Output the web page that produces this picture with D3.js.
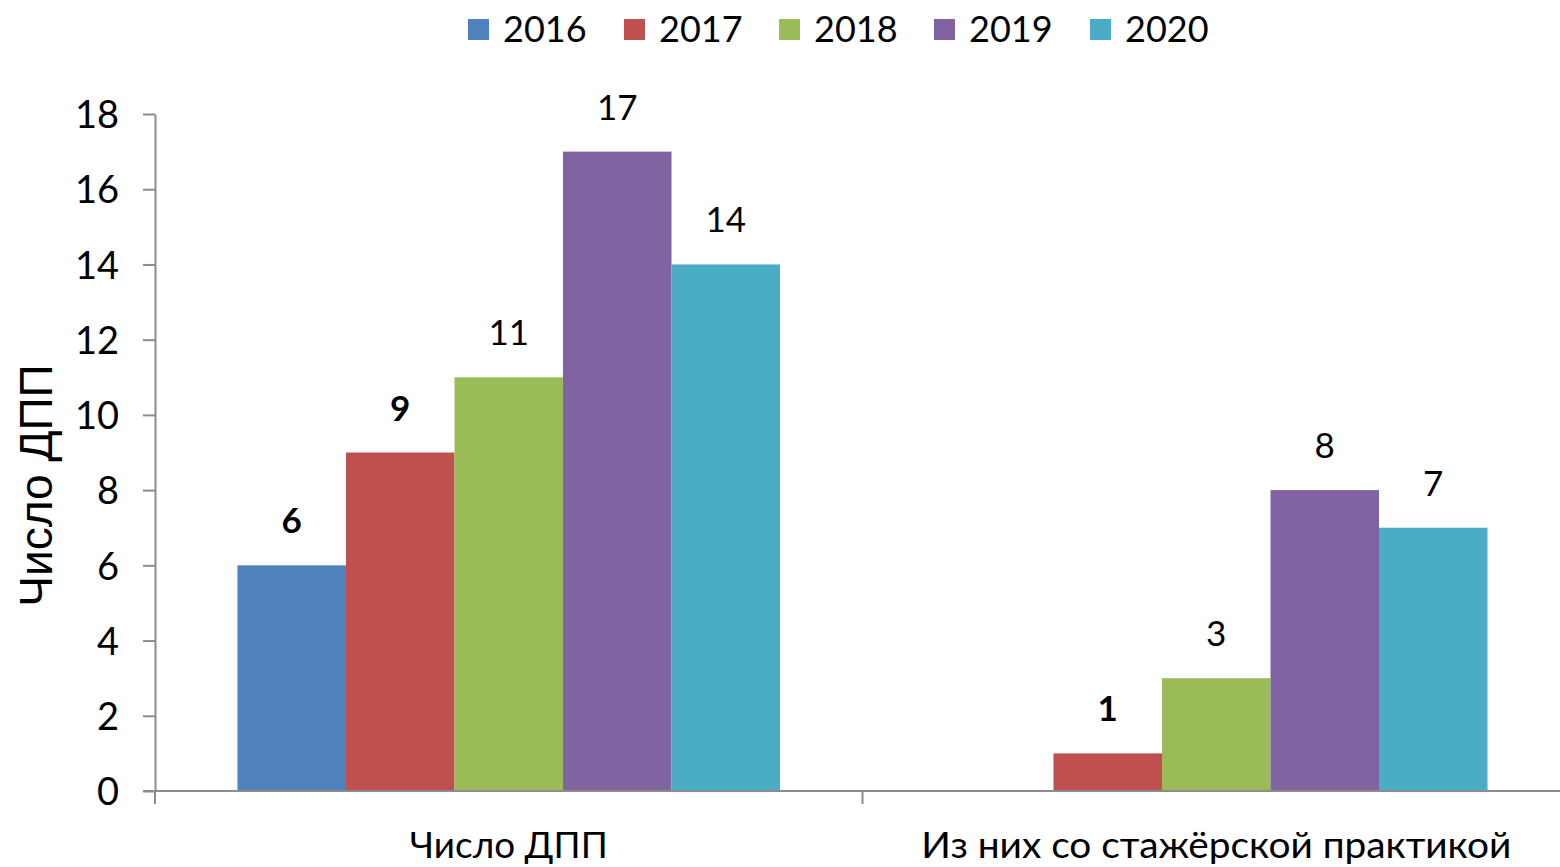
<!DOCTYPE html>
<html>
<head>
<meta charset="utf-8">
<script src="https://cdn.jsdelivr.net/npm/d3@7"></script>
<style>
  body { margin: 0; background: #fff; }
  text { font-family: Lato, "Open Sans", sans-serif; fill: #000; }
</style>
</head>
<body>
<svg id="chart" width="1560" height="867"></svg>
<script>
// data
const categories = ["Число ДПП", "Из них со стажёрской практикой"];
const years = ["2016", "2017", "2018", "2019", "2020"];
const colors = ["#4f81bd", "#c0504d", "#9bbb59", "#8064a2", "#4bacc6"];
const values2016 = [6, 0];
const values2017 = [9, 1];
const values2018 = [11, 3];
const values2019 = [17, 8];
const values2020 = [14, 7];
const boldLabels = [[true, false], [true, true], [false, false], [false, false], [false, false]];
const yTicks = [0, 2, 4, 6, 8, 10, 12, 14, 16, 18];

const series = [values2016, values2017, values2018, values2019, values2020];

const svg = d3.select('#chart');
const mLeft = 155, mRight = 1570, mTop = 114, mBottom = 791;

const x0 = d3.scaleBand().domain(categories).range([mLeft, mRight]).paddingInner(0).paddingOuter(0);
const x1 = d3.scaleBand().domain(years).range([0, x0.bandwidth()]).paddingInner(0).paddingOuter(0.76);
const y = d3.scaleLinear().domain([0, 18]).range([mBottom, mTop]);

// bars
const groups = svg.append("g")
  .selectAll("g")
  .data(categories)
  .join("g")
  .attr("transform", d => `translate(${x0(d)},0)`);

groups.selectAll("rect")
  .data((c, ci) => years.map((yr, si) => ({yr, si, ci, v: series[si][ci]})).filter(d => d.v > 0))
  .join("rect")
  .attr("x", d => x1(d.yr))
  .attr("y", d => y(d.v))
  .attr("width", x1.bandwidth())
  .attr("height", d => y(0) - y(d.v))
  .attr("fill", d => colors[d.si]);

groups.selectAll("text.lbl")
  .data((c, ci) => years.map((yr, si) => ({yr, si, ci, v: series[si][ci]})).filter(d => d.v > 0))
  .join("text")
  .attr("class", "lbl")
  .attr("x", d => x1(d.yr) + x1.bandwidth() / 2)
  .attr("y", d => y(d.v) - 32)
  .attr("text-anchor", "middle")
  .style("font-size", "35px")
  .style("font-weight", d => boldLabels[d.si][d.ci] ? "bold" : "normal")
  .text(d => d.v);

// y axis
const yAxis = svg.append("g")
  .attr("transform", `translate(${mLeft},0)`)
  .call(d3.axisLeft(y).tickValues(yTicks).tickSize(12).tickPadding(24).tickSizeOuter(0));
yAxis.select(".domain").attr("stroke", "#8c8c8c").attr("stroke-width", 2);
yAxis.selectAll(".tick line").attr("stroke", "#8c8c8c").attr("stroke-width", 2);
yAxis.selectAll(".tick text")
  .style("font-size", "38px")
  .style("font-family", "Lato, sans-serif")
  .attr("fill", "#000")
  .attr("dy", "0.36em");

// x axis
const xAxis = svg.append("g")
  .attr("transform", `translate(0,${mBottom})`)
  .call(d3.axisBottom(x0).tickSize(0).tickPadding(0));
xAxis.select(".domain").attr("d", `M${mLeft - 12},0H1560`).attr("stroke", "#8c8c8c").attr("stroke-width", 2);
xAxis.selectAll(".tick text")
  .attr("y", 67)
  .attr("dy", 0)
  .style("font-size", "36px")
  .style("font-family", "Lato, sans-serif")
  .attr("fill", "#000");
xAxis.selectAll(".tick text").filter(d => d === categories[1])
  .attr("textLength", 590).attr("lengthAdjust", "spacingAndGlyphs");
xAxis.selectAll(".tick text").filter(d => d === categories[0])
  .attr("textLength", 198).attr("lengthAdjust", "spacingAndGlyphs");

// category dividers
svg.append("g")
  .selectAll("line")
  .data([mLeft, x0(categories[1])])
  .join("line")
  .attr("x1", d => d).attr("x2", d => d)
  .attr("y1", mBottom).attr("y2", mBottom + 13)
  .attr("stroke", "#8c8c8c").attr("stroke-width", 2);

// y title
svg.append("text")
  .attr("transform", `translate(52,${(mTop + mBottom) / 2 + 33}) rotate(-90)`)
  .attr("text-anchor", "middle")
  .style("font-family", "'Liberation Sans', Arial, sans-serif")
  .style("font-size", "46px")
  .text("Число ДПП");

// legend
const legendX = [468, 624, 779, 934, 1090];
const legend = svg.append("g")
  .selectAll("g")
  .data(years)
  .join("g")
  .attr("transform", (d, i) => `translate(${legendX[i]},0)`);
legend.append("rect")
  .attr("x", 0).attr("y", 19).attr("width", 21).attr("height", 21)
  .attr("fill", (d, i) => colors[i]);
legend.append("text")
  .attr("x", 35).attr("y", 42)
  .style("font-size", "36px")
  .text(d => d);
</script>
</body>
</html>
